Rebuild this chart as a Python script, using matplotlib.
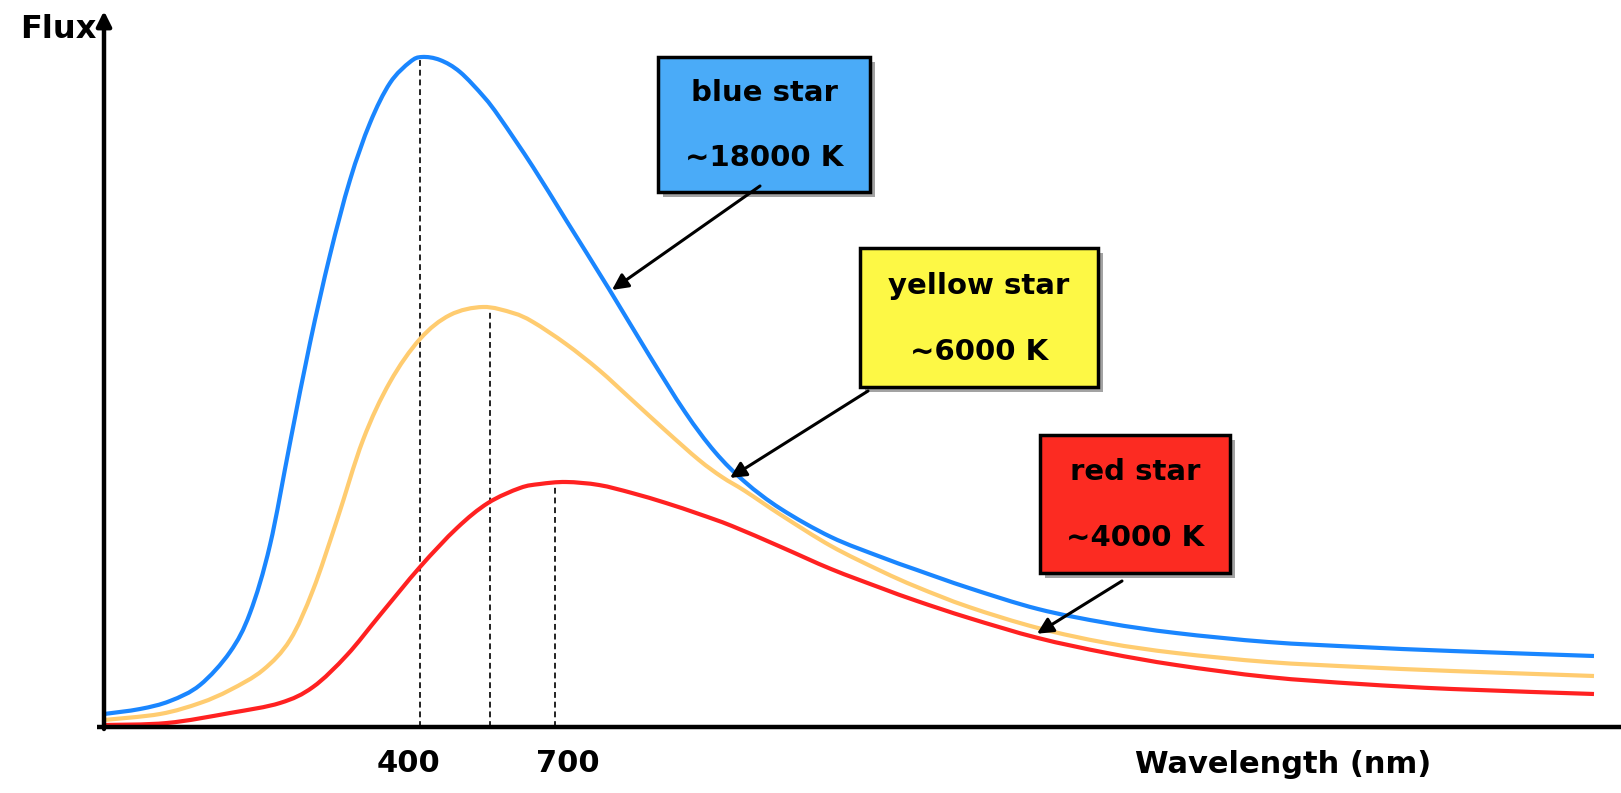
import numpy as np
import matplotlib
matplotlib.use("Agg")
import matplotlib.pyplot as plt
from matplotlib.patches import Rectangle, PathPatch
from matplotlib.path import Path

plt.rcParams['font.family'] = ['DejaVu Sans']

# Spectra (arbitrary wavelength / flux units)
wl_blue = [0, 36, 66, 96, 126, 146, 166, 186, 206, 226, 246, 266, 286, 306, 318, 336, 356, 380,
           396, 429, 462, 505, 545, 581, 611, 641, 677, 727, 777, 813, 865, 934, 1003, 1072,
           1164, 1256, 1348, 1490]
flux_blue = [13, 18, 26, 42, 75, 114, 182, 284, 384, 472, 547, 604, 644, 665, 670, 667, 655, 630,
             609, 560, 507, 438, 372, 315, 275, 245, 218, 190, 170, 157, 139, 118, 104, 94,
             85, 80, 76, 71]

wl_yellow = [0, 56, 96, 126, 159, 186, 209, 233, 259, 286, 316, 346, 379, 409, 429, 462, 495, 528,
             562, 595, 618, 641, 677, 727, 777, 813, 865, 934, 1003, 1072, 1164, 1256, 1348, 1490]
flux_yellow = [7, 13, 24, 37, 57, 87, 137, 207, 287, 345, 388, 412, 420, 414, 405, 383, 357, 327,
               296, 267, 250, 236, 212, 181, 156, 140, 120, 99, 84, 74, 65, 60, 56, 51]

wl_red = [0, 63, 126, 176, 209, 243, 276, 316, 353, 384, 416, 436, 462, 495, 528, 562, 595, 628,
          677, 727, 777, 813, 865, 934, 1003, 1072, 1164, 1256, 1348, 1490]
flux_red = [2, 4, 14, 24, 40, 72, 112, 160, 199, 224, 239, 243, 245, 242, 234, 224, 213, 201,
            180, 158, 139, 126, 109, 89, 74, 62, 50, 43, 38, 33]

peak_wl = [316, 386, 451]           # dashed markers (blue, yellow, red)
tick_pos = [304, 464]
tick_labels = ["400", "700"]

star_names = ["blue star", "yellow star", "red star"]
star_temps = ["~18000 K", "~6000 K", "~4000 K"]
box_colors = ["#4aabf8", "#fdf845", "#fc2b22"]
line_colors = ["#1a86ff", "#ffcc70", "#ff2121"]

# box extents: x0, x1, y0, y1 and arrow (start, tip wavelength)
boxes = [(554, 766, 535, 670), (756, 994, 340, 479), (936, 1126, 154, 292)]
arrow_from = [(656, 541), (764, 336), (1018, 146)]
arrow_tip_wl = [508, 626, 933]


def smooth_path(x, y):
    # Catmull-Rom through the read points, drawn as cubic Bezier segments
    p = np.column_stack([x, y]).astype(float)
    ext = np.vstack([p[0], p, p[-1]])
    verts = [p[0]]
    codes = [Path.MOVETO]
    for i in range(1, len(ext) - 2):
        p0, p1, p2, p3 = ext[i - 1], ext[i], ext[i + 1], ext[i + 2]
        verts += [p1 + (p2 - p0) / 6, p2 - (p3 - p1) / 6, p2]
        codes += [Path.CURVE4] * 3
    return Path(verts, codes)


fig = plt.figure(figsize=(16.21, 7.93), dpi=100)
ax = fig.add_axes([0, 0, 1, 1])
ax.set_xlim(-104, 1517)
ax.set_ylim(-66, 727)
ax.axis('off')

series = [(wl_blue, flux_blue), (wl_yellow, flux_yellow), (wl_red, flux_red)]

# dashed peak lines
for (wl, fl), px in zip(series, peak_wl):
    top = np.interp(px, wl, fl)
    ax.plot([px, px], [0, top], color='#222222', lw=1.4, ls=(0, (3, 2)), zorder=1)

for (wl, fl), c in zip(series[::-1], line_colors[::-1]):
    ax.add_patch(PathPatch(smooth_path(wl, fl), facecolor='none', edgecolor=c,
                           lw=3, capstyle='butt', zorder=2))

# axes
ax.plot([-7, 1517], [0, 0], color='black', lw=3.2, zorder=3, solid_capstyle='butt')
ax.annotate('', xy=(0, 716), xytext=(0, -2),
            arrowprops=dict(arrowstyle='-|>', lw=3.2, color='black', mutation_scale=22,
                            shrinkA=0, shrinkB=0), zorder=3)

ax.text(-84, 697, "Flux", fontsize=23, fontweight='bold', ha='left', va='center')
for p, lab in zip(tick_pos, tick_labels):
    ax.text(p, -37, lab, fontsize=22, fontweight='bold', ha='center', va='center')
ax.text(1031, -46, "Wavelength (nm)", fontsize=22, fontweight='bold', ha='left', va='baseline')

# label boxes with arrows
for i, (x0, x1, y0, y1) in enumerate(boxes):
    ax.add_patch(Rectangle((x0 + 5, y0 - 5), x1 - x0, y1 - y0, facecolor='#666666',
                           edgecolor='none', alpha=0.6, zorder=4))
    ax.add_patch(Rectangle((x0, y0), x1 - x0, y1 - y0, facecolor=box_colors[i],
                           edgecolor='black', lw=2.5, zorder=5))
    cx = (x0 + x1) / 2
    h = y1 - y0
    ax.text(cx, y1 - 0.27 * h, star_names[i], fontsize=21, fontweight='bold',
            ha='center', va='center', zorder=6)
    ax.text(cx, y1 - 0.75 * h, star_temps[i], fontsize=21, fontweight='bold',
            ha='center', va='center', zorder=6)
    wl, fl = series[i]
    tx = arrow_tip_wl[i]
    ty = np.interp(tx, wl, fl) + 4
    ax.annotate('', xy=(tx, ty), xytext=arrow_from[i],
                arrowprops=dict(arrowstyle='-|>', lw=2.2, color='black', mutation_scale=24,
                                shrinkA=0, shrinkB=0), zorder=6)

fig.savefig("out.png", dpi=100)
